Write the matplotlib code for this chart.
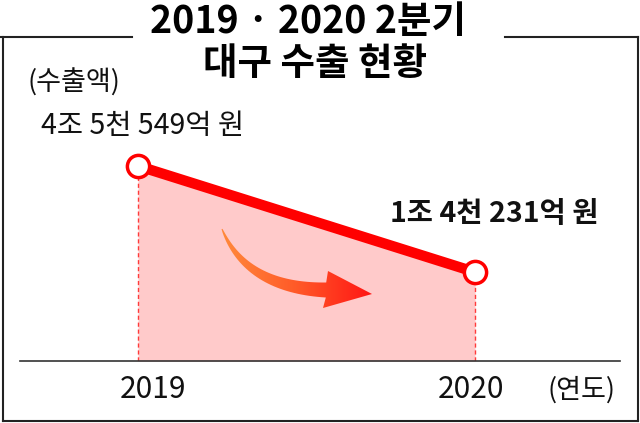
import numpy as np
import matplotlib
matplotlib.use("Agg")
import matplotlib.pyplot as plt
from matplotlib.patches import Polygon
from matplotlib.colors import LinearSegmentedColormap

plt.rcParams['font.family'] = ['Noto Sans CJK KR', 'DejaVu Sans']

# data (억 원)
years = [2019, 2020]
values = [45549, 14231]
value_labels = ['4조 5천 549억 원', '1조 4천 231억 원']
year_labels = ['2019', '2020']
title_lines = ['2019 · 2020 2분기', '대구 수출 현황']
y_name = '(수출액)'
x_name = '(연도)'

W, H = 640, 423
fig = plt.figure(figsize=(W / 100, H / 100), dpi=100)
fig.patch.set_facecolor('white')

# main chart area (pixel box -> figure fraction)
ax_l, ax_r, ax_t, ax_b = 20, 620, 100, 361
ax = fig.add_axes([ax_l / W, (H - ax_b) / H, (ax_r - ax_l) / W, (ax_b - ax_t) / H])
ax.set_xlim(2018.65, 2020.43)
ax.set_ylim(-12000, 65000)
y0 = ax.get_ylim()[0]

ax.fill_between(years, values, y0, color='#ffcaca', lw=0, zorder=1)
ax.vlines(years, y0, values, colors='#ff3b3b', linestyles=(0, (3, 2)), lw=1, zorder=2)
ax.plot(years, values, color='#ff0000', lw=7.5, solid_capstyle='butt', zorder=3)
ax.plot(years, values, 'o', ms=16, mfc='white', mec='#ff0000', mew=2.5, zorder=4)

for sp in ['top', 'left', 'right']:
    ax.spines[sp].set_visible(False)
ax.spines['bottom'].set_color('#333333')
ax.spines['bottom'].set_linewidth(1.2)
ax.set_xticks([])
ax.set_yticks([])
ax.patch.set_alpha(0)

# value labels
ax.annotate(value_labels[0], (years[0], values[0]), textcoords='offset pixels',
            xytext=(5, 40), ha='center', va='center', fontsize=20.5, color='#111111')
ax.annotate(value_labels[1], (years[1], values[1]), textcoords='offset pixels',
            xytext=(19, 58), ha='center', va='center', fontsize=20.5, fontweight='bold', color='#111111')

# year labels under baseline
for yr, lab, dx in zip(years, year_labels, [15, -4]):
    ax.annotate(lab, (yr, 0), xycoords=('data', 'axes fraction'), textcoords='offset pixels',
                xytext=(dx, -28), ha='center', va='center', fontsize=21.5, color='#111111')

# overlay in pixel coords for frame, titles, arrow
ov = fig.add_axes([0, 0, 1, 1], zorder=5)
ov.set_xlim(0, W)
ov.set_ylim(H, 0)
ov.axis('off')
ov.patch.set_alpha(0)

fc = '#222222'
ov.plot([0, 132], [37, 37], color=fc, lw=1.5)
ov.plot([505, 638], [37, 37], color=fc, lw=1.5)
ov.plot([3, 3], [37, 421], color=fc, lw=1.5)
ov.plot([638, 638], [37, 421], color=fc, lw=1.5)
ov.plot([3, 638], [421, 421], color=fc, lw=1.5)

ov.text(308, 22, title_lines[0], ha='center', va='center', fontsize=27, fontweight='bold', color='#000000')
ov.text(315, 64, title_lines[1], ha='center', va='center', fontsize=27, fontweight='bold', color='#000000')
ov.text(74, 83, y_name, ha='center', va='center', fontsize=19.5, color='#111111')
ov.text(582, 390, x_name, ha='center', va='center', fontsize=19.5, color='#111111')

# curved gradient arrow
p0, p1, p2 = np.array([222, 229]), np.array([246, 288]), np.array([326, 290])
t = np.linspace(0, 1, 40)[:, None]
c = (1 - t) ** 2 * p0 + 2 * (1 - t) * t * p1 + t ** 2 * p2
d = 2 * (1 - t) * (p1 - p0) + 2 * t * (p2 - p1)
d = d / np.linalg.norm(d, axis=1, keepdims=True)
n = np.column_stack([-d[:, 1], d[:, 0]])
hw = (0.5 + 7 * t[:, 0] ** 0.8)[:, None]
upper = c - n * hw
lower = c + n * hw
tip = np.array([372, 294])
head_top = np.array([328, 271])
head_bot = np.array([323, 308])
pts = np.vstack([upper, [head_top, tip, head_bot], lower[::-1]])
arrow = Polygon(pts, closed=True, facecolor='none', edgecolor='none')
ov.add_patch(arrow)
cmap = LinearSegmentedColormap.from_list('arr', ['#ff8c3c', '#ff5a28', '#ff1414'])
grad = np.linspace(0, 1, 200)[None, :]
im = ov.imshow(grad, cmap=cmap, extent=[218, 374, 312, 224], aspect='auto', zorder=6)
im.set_clip_path(arrow)
ov.set_xlim(0, W)
ov.set_ylim(H, 0)

fig.savefig('out.png', dpi=100, facecolor='white')
